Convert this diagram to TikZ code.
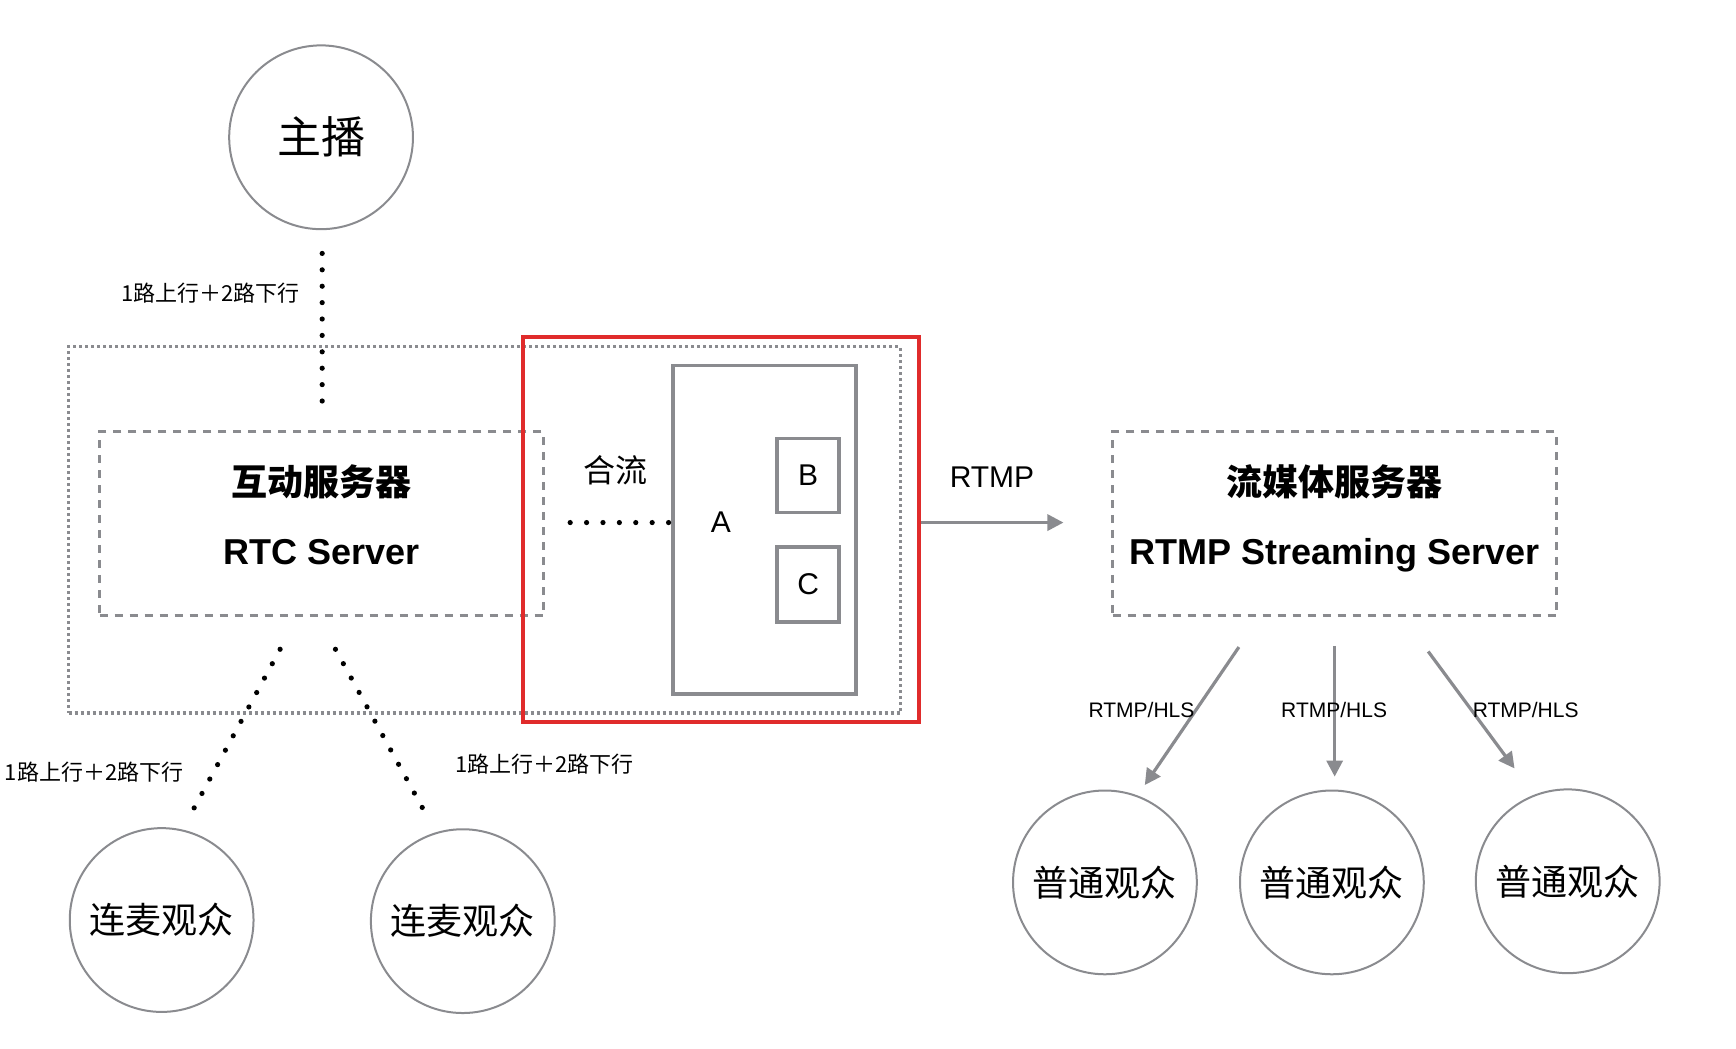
\documentclass[tikz,border=0pt]{standalone}
\usepackage{fontspec}
\setmainfont{Liberation Sans}
\newfontfamily\cjk{Noto Sans CJK SC}
\usetikzlibrary{arrows.meta, calc}
\definecolor{edge}{HTML}{8A8B8F}
\definecolor{mixred}{HTML}{E02B2B}
\newcommand\px{0.5536pt}
\tikzset{
  user/.style={circle, draw=edge, line width=1pt, minimum size=166*\px, inner sep=0pt, font=\cjk\fontsize{18}{20}\selectfont},
  server/.style={rectangle, draw=edge, line width=1.6pt, dash pattern=on 4pt off 3.5pt, minimum width=401*\px, minimum height=166*\px, inner sep=0pt, align=center, text depth=9pt, font=\bfseries\fontsize{18}{34.5}\selectfont},
  group/.style={rectangle, draw=edge, line width=1.6pt, dash pattern=on 1.5pt off 1.5pt, inner sep=0pt},
  layer/.style={rectangle, draw=edge, line width=1.8pt, inner sep=0pt, font=\fontsize{15}{18}\selectfont},
  link/.style={line width=2.6pt, line cap=round, dash pattern=on 0pt off 8.2pt},
  arr/.style={-{Triangle[length=8pt,width=8pt]}, line width=1.6pt, edge},
  note/.style={font=\cjk\fontsize{11}{13}\selectfont},
  proto/.style={font=\fontsize{10.5}{12}\selectfont},
}
\begin{document}
\begin{tikzpicture}[x=\px, y=-\px]
\useasboundingbox (0,0) rectangle (1568,947);
\node[group, minimum width=751*\px, minimum height=331*\px] (outer) at (437.5,478.5) {};
\node[user, font=\cjk\fontsize{22}{24}\selectfont] (host) at (290,124) {主播};
\node[server] (rtc) at (290.5,473) {{\cjk 互动服务器}\\RTC Server};
\node[rectangle, draw=mixred, line width=2pt, minimum width=358*\px, minimum height=348*\px] (mix) at (651,478) {};
\node[layer, minimum width=165*\px, minimum height=297*\px] (abox) at (690.5,478.5) {};
\node[layer, minimum width=56*\px, minimum height=67*\px] (bbox) at (730,429.5) {B};
\node[layer, minimum width=56*\px, minimum height=68*\px] (cbox) at (730,528) {C};
\node[font=\fontsize{15}{18}\selectfont] (alab) at (651,472) {A};
\node[font=\cjk\fontsize{16}{18}\selectfont] (mixlab) at (556,425) {合流};
\node[server] (stream) at (1205.5,473) {{\cjk 流媒体服务器}\\RTMP Streaming Server};
\node[user] (mic1) at (146,831) {连麦观众};
\node[user] (mic2) at (418,832) {连麦观众};
\node[user] (v1) at (998,797) {普通观众};
\node[user] (v2) at (1203,797) {普通观众};
\node[user] (v3) at (1416,796) {普通观众};
\coordinate (mixin) at (515,472);
\draw[link] ($(host.south)+(1,21)$) -- ($(rtc.north)+(0.5,-24)$);
\draw[link] ($(rtc.south)+(-37.5,29)$) -- ($(mic1.north)+(27,-13)$);
\draw[link] ($(rtc.south)+(12.5,29)$) -- ($(mic2.north)+(-34,-14)$);
\draw[link] (mixin) -- ($(mixin -| abox.west)+(2,0)$);
\draw[arr, shorten >=43*\px] (mix.east |- mixin) -- (stream.west |- mixin);
\node[font=\fontsize{15}{18}\selectfont] (rtmplab) at (896,431) {RTMP};
\draw[arr] ($(stream.south)+(-86.5,27)$) -- ($(v1.north)+(36,-4)$);
\draw[arr] ($(stream.south)+(0,26)$) -- ++(0,118);
\draw[arr] ($(stream.south)+(84.5,31)$) -- ($(v3.north)+(-48,-18)$);
\node[proto] (p1) at (1031,641) {RTMP/HLS};
\node[proto] (p2) at (1205,641) {RTMP/HLS};
\node[proto] (p3) at (1378,641) {RTMP/HLS};
\node[note] (n1) at (190,265) {1路上行＋2路下行};
\node[note] (n2) at (85,697) {1路上行＋2路下行};
\node[note] (n3) at (492,690) {1路上行＋2路下行};
\end{tikzpicture}
\end{document}
